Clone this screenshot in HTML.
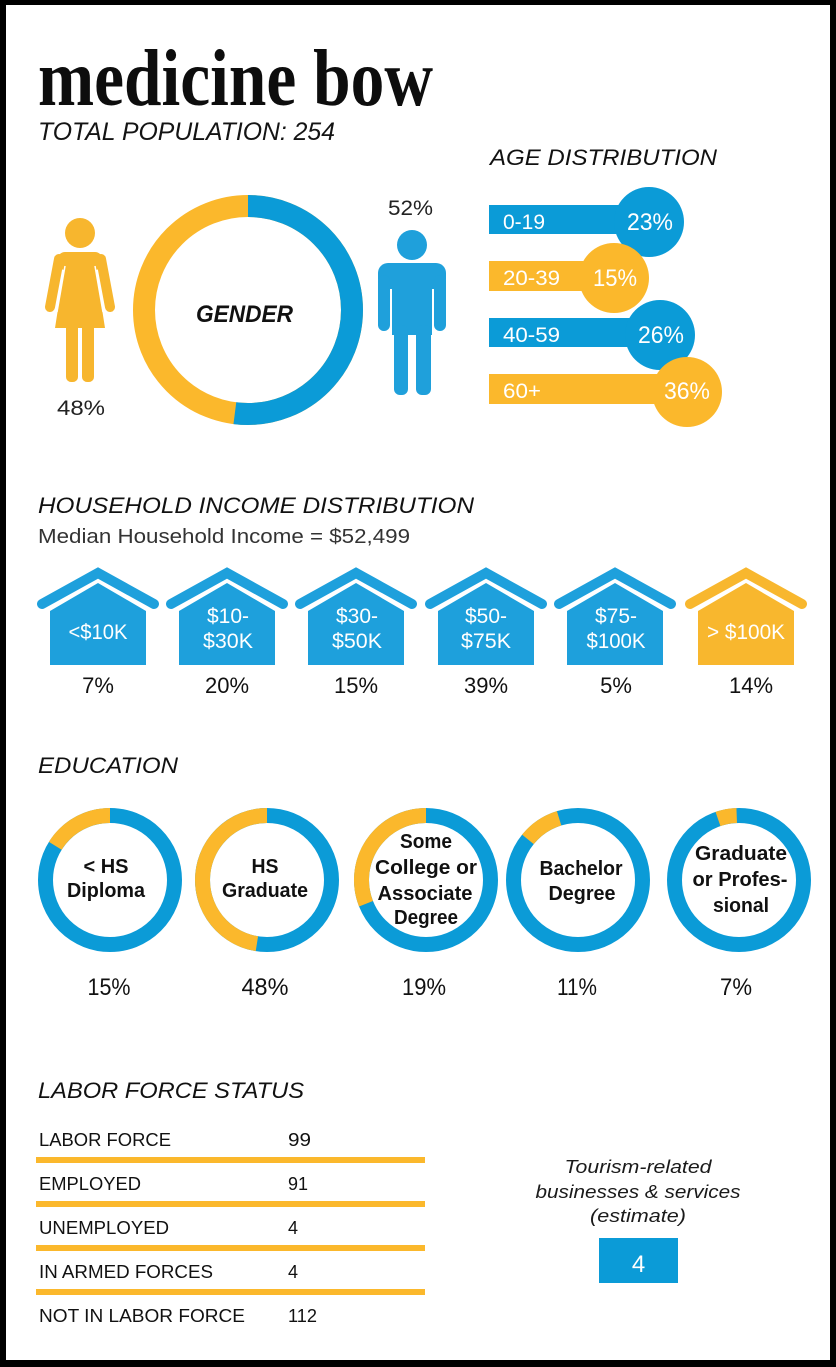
<!DOCTYPE html>
<html>
<head>
<meta charset="utf-8">
<style>
  html,body{margin:0;padding:0;background:#000;}
  svg{display:block;}
  text{font-family:"Liberation Sans", Arial, sans-serif;}
</style>
</head>
<body>
<svg width="836" height="1367" viewBox="0 0 836 1367" xmlns="http://www.w3.org/2000/svg">
  <rect x="0" y="0" width="836" height="1367" fill="#000"/>
  <rect x="6" y="5" width="824" height="1355" fill="#fff"/>

  <!-- Title -->
  <text x="38" y="105" style="font-family:'Liberation Serif', serif;" font-weight="bold" font-size="80" textLength="395" lengthAdjust="spacingAndGlyphs" fill="#0d0d0d">medicine bow</text>
  <text x="38" y="140" font-style="italic" font-size="25" textLength="297" lengthAdjust="spacingAndGlyphs" fill="#141414">TOTAL POPULATION: 254</text>

  <!-- Gender donut -->
  <circle cx="248" cy="310" r="104" fill="none" stroke="#fbb82c" stroke-width="22"/>
  <circle cx="248" cy="310" r="104" fill="none" stroke="#0b9bd7" stroke-width="22"
          stroke-dasharray="339.8 1000" transform="rotate(-90 248 310)"/>
  <text x="196" y="322" font-weight="bold" font-style="italic" font-size="24" textLength="97" lengthAdjust="spacingAndGlyphs" fill="#111">GENDER</text>

  <!-- Woman -->
  <g fill="#f7b62e">
    <circle cx="80" cy="233" r="15"/>
    <rect x="58" y="252" width="44" height="18" rx="7"/>
    <polygon points="66,258 94,258 105,328 55,328"/>
    <rect x="66" y="320" width="12" height="62" rx="5"/>
    <rect x="82" y="320" width="12" height="62" rx="5"/>
  </g>
  <g stroke="#f7b62e" stroke-width="10" stroke-linecap="round">
    <line x1="59" y1="259" x2="50" y2="307"/>
    <line x1="101" y1="259" x2="110" y2="307"/>
  </g>
  <g stroke="#fff" stroke-width="1.5">
    <line x1="65" y1="266" x2="57" y2="312"/>
    <line x1="95" y1="266" x2="103" y2="312"/>
  </g>
  <text x="57" y="415" font-size="21" textLength="48" lengthAdjust="spacingAndGlyphs" fill="#222">48%</text>

  <!-- Man -->
  <g fill="#1fa0db">
    <circle cx="412" cy="245" r="15"/>
    <rect x="378" y="263" width="68" height="26" rx="10"/>
    <rect x="378" y="275" width="12" height="56" rx="6"/>
    <rect x="434" y="275" width="12" height="56" rx="6"/>
    <rect x="392" y="263" width="40" height="72"/>
    <rect x="394" y="325" width="14" height="70" rx="6"/>
    <rect x="416" y="325" width="15" height="70" rx="6"/>
  </g>
  <text x="388" y="215" font-size="21" textLength="45" lengthAdjust="spacingAndGlyphs" fill="#222">52%</text>

  <!-- Age distribution -->
  <text x="490" y="165" font-style="italic" font-size="22" textLength="227" lengthAdjust="spacingAndGlyphs" fill="#111">AGE DISTRIBUTION</text>
  <rect x="489" y="205" width="160" height="29" fill="#0b9bd7"/>
  <circle cx="649" cy="222" r="35" fill="#0b9bd7"/>
  <rect x="489" y="261" width="125" height="30" fill="#fbb82c"/>
  <circle cx="614" cy="278" r="35" fill="#fbb82c"/>
  <rect x="489" y="318" width="171" height="29" fill="#0b9bd7"/>
  <circle cx="660" cy="335" r="35" fill="#0b9bd7"/>
  <rect x="489" y="374" width="198" height="30" fill="#fbb82c"/>
  <circle cx="687" cy="392" r="35" fill="#fbb82c"/>
  <g fill="#fff" font-size="21">
    <text x="503" y="229" textLength="42" lengthAdjust="spacingAndGlyphs">0-19</text>
    <text x="503" y="285" textLength="57" lengthAdjust="spacingAndGlyphs">20-39</text>
    <text x="503" y="342" textLength="57" lengthAdjust="spacingAndGlyphs">40-59</text>
    <text x="503" y="398" textLength="38" lengthAdjust="spacingAndGlyphs">60+</text>
  </g>
  <g fill="#fff" font-size="24">
    <text x="627" y="230" textLength="46" lengthAdjust="spacingAndGlyphs">23%</text>
    <text x="593" y="286" textLength="44" lengthAdjust="spacingAndGlyphs">15%</text>
    <text x="638" y="343" textLength="46" lengthAdjust="spacingAndGlyphs">26%</text>
    <text x="664" y="399" textLength="46" lengthAdjust="spacingAndGlyphs">36%</text>
  </g>

  <!-- Household income -->
  <text x="38" y="513" font-style="italic" font-size="22" textLength="436" lengthAdjust="spacingAndGlyphs" fill="#111">HOUSEHOLD INCOME DISTRIBUTION</text>
  <text x="38" y="543" font-size="20" textLength="372" lengthAdjust="spacingAndGlyphs" fill="#333">Median Household Income = $52,499</text>

  <g id="houses">
    <g>
      <polyline points="42,604 98,573 154,604" fill="none" stroke="#1ea0dc" stroke-width="10" stroke-linecap="round" stroke-linejoin="miter"/>
      <polygon points="50,665 50,611 98,583 146,611 146,665" fill="#1ea0dc"/>
    </g>
    <g>
      <polyline points="171,604 227,573 283,604" fill="none" stroke="#1ea0dc" stroke-width="10" stroke-linecap="round" stroke-linejoin="miter"/>
      <polygon points="179,665 179,611 227,583 275,611 275,665" fill="#1ea0dc"/>
    </g>
    <g>
      <polyline points="300,604 356,573 412,604" fill="none" stroke="#1ea0dc" stroke-width="10" stroke-linecap="round" stroke-linejoin="miter"/>
      <polygon points="308,665 308,611 356,583 404,611 404,665" fill="#1ea0dc"/>
    </g>
    <g>
      <polyline points="430,604 486,573 542,604" fill="none" stroke="#1ea0dc" stroke-width="10" stroke-linecap="round" stroke-linejoin="miter"/>
      <polygon points="438,665 438,611 486,583 534,611 534,665" fill="#1ea0dc"/>
    </g>
    <g>
      <polyline points="559,604 615,573 671,604" fill="none" stroke="#1ea0dc" stroke-width="10" stroke-linecap="round" stroke-linejoin="miter"/>
      <polygon points="567,665 567,611 615,583 663,611 663,665" fill="#1ea0dc"/>
    </g>
    <g>
      <polyline points="690,604 746,573 802,604" fill="none" stroke="#f8b72e" stroke-width="10" stroke-linecap="round" stroke-linejoin="miter"/>
      <polygon points="698,665 698,611 746,583 794,611 794,665" fill="#f8b72e"/>
    </g>
  </g>
  <g fill="#fff" font-size="21" text-anchor="middle">
    <text x="98" y="639" textLength="59" lengthAdjust="spacingAndGlyphs">&lt;$10K</text>
    <text x="228" y="623">$10-</text>
    <text x="228" y="648" textLength="50" lengthAdjust="spacingAndGlyphs">$30K</text>
    <text x="357" y="623">$30-</text>
    <text x="357" y="648" textLength="50" lengthAdjust="spacingAndGlyphs">$50K</text>
    <text x="486" y="623">$50-</text>
    <text x="486" y="648" textLength="50" lengthAdjust="spacingAndGlyphs">$75K</text>
    <text x="616" y="623">$75-</text>
    <text x="616" y="648" textLength="59" lengthAdjust="spacingAndGlyphs">$100K</text>
    <text x="746" y="639" textLength="78" lengthAdjust="spacingAndGlyphs">&gt; $100K</text>
  </g>
  <g fill="#111" font-size="22" text-anchor="middle">
    <text x="98" y="693">7%</text>
    <text x="227" y="693">20%</text>
    <text x="356" y="693">15%</text>
    <text x="486" y="693">39%</text>
    <text x="616" y="693">5%</text>
    <text x="751" y="693">14%</text>
  </g>

  <!-- Education -->
  <text x="38" y="773" font-style="italic" font-size="22" textLength="140" lengthAdjust="spacingAndGlyphs" fill="#111">EDUCATION</text>
  <g fill="none" stroke-width="15">
    <circle cx="110" cy="880" r="64.5" stroke="#0b9bd7"/>
    <path d="M110,815.5 A64.5,64.5 0 0 0 55.3,845.8" stroke="#fbb82c"/>
    <circle cx="267" cy="880" r="64.5" stroke="#0b9bd7"/>
    <path d="M267,815.5 A64.5,64.5 0 0 0 256.9,943.7" stroke="#fbb82c"/>
    <circle cx="426" cy="880" r="64.5" stroke="#0b9bd7"/>
    <path d="M426,815.5 A64.5,64.5 0 0 0 366.0,903.7" stroke="#fbb82c"/>
    <circle cx="578" cy="880" r="64.5" stroke="#0b9bd7"/>
    <path d="M559.1,818.3 A64.5,64.5 0 0 0 527.9,839.4" stroke="#fbb82c"/>
    <circle cx="739" cy="880" r="64.5" stroke="#0b9bd7"/>
    <path d="M736.7,815.5 A64.5,64.5 0 0 0 718.0,819.0" stroke="#fbb82c"/>
  </g>
  <g fill="#111" font-weight="bold" font-size="20" text-anchor="middle">
    <text x="106" y="873" textLength="45" lengthAdjust="spacingAndGlyphs">&lt; HS</text>
    <text x="106" y="897" textLength="78" lengthAdjust="spacingAndGlyphs">Diploma</text>
    <text x="265" y="873" textLength="27" lengthAdjust="spacingAndGlyphs">HS</text>
    <text x="265" y="897" textLength="86" lengthAdjust="spacingAndGlyphs">Graduate</text>
    <text x="426" y="848" textLength="52" lengthAdjust="spacingAndGlyphs">Some</text>
    <text x="426" y="874" textLength="102" lengthAdjust="spacingAndGlyphs">College or</text>
    <text x="425" y="900" textLength="95" lengthAdjust="spacingAndGlyphs">Associate</text>
    <text x="426" y="924" textLength="64" lengthAdjust="spacingAndGlyphs">Degree</text>
    <text x="581" y="875" textLength="83" lengthAdjust="spacingAndGlyphs">Bachelor</text>
    <text x="582" y="900" textLength="67" lengthAdjust="spacingAndGlyphs">Degree</text>
    <text x="741" y="860" textLength="92" lengthAdjust="spacingAndGlyphs">Graduate</text>
    <text x="740" y="886" textLength="95" lengthAdjust="spacingAndGlyphs">or Profes-</text>
    <text x="741" y="912" textLength="56" lengthAdjust="spacingAndGlyphs">sional</text>
  </g>
  <g fill="#111" font-size="24" text-anchor="middle">
    <text x="109" y="995" textLength="43" lengthAdjust="spacingAndGlyphs">15%</text>
    <text x="265" y="995" textLength="47" lengthAdjust="spacingAndGlyphs">48%</text>
    <text x="424" y="995" textLength="44" lengthAdjust="spacingAndGlyphs">19%</text>
    <text x="577" y="995" textLength="40" lengthAdjust="spacingAndGlyphs">11%</text>
    <text x="736" y="995" textLength="32" lengthAdjust="spacingAndGlyphs">7%</text>
  </g>

  <!-- Labor force -->
  <text x="38" y="1098" font-style="italic" font-size="22" textLength="266" lengthAdjust="spacingAndGlyphs" fill="#111">LABOR FORCE STATUS</text>
  <g fill="#fbb82c">
    <rect x="36" y="1157" width="389" height="6"/>
    <rect x="36" y="1201" width="389" height="6"/>
    <rect x="36" y="1245" width="389" height="6"/>
    <rect x="36" y="1289" width="389" height="6"/>
  </g>
  <g fill="#111" font-size="18">
    <text x="39" y="1146" textLength="132" lengthAdjust="spacingAndGlyphs">LABOR FORCE</text>
    <text x="39" y="1190" textLength="102" lengthAdjust="spacingAndGlyphs">EMPLOYED</text>
    <text x="39" y="1234" textLength="130" lengthAdjust="spacingAndGlyphs">UNEMPLOYED</text>
    <text x="39" y="1278" textLength="174" lengthAdjust="spacingAndGlyphs">IN ARMED FORCES</text>
    <text x="39" y="1322" textLength="206" lengthAdjust="spacingAndGlyphs">NOT IN LABOR FORCE</text>
    <text x="288" y="1146" textLength="23" lengthAdjust="spacingAndGlyphs">99</text>
    <text x="288" y="1190" textLength="20" lengthAdjust="spacingAndGlyphs">91</text>
    <text x="288" y="1234">4</text>
    <text x="288" y="1278">4</text>
    <text x="288" y="1322" textLength="29" lengthAdjust="spacingAndGlyphs">112</text>
  </g>

  <!-- Tourism -->
  <g fill="#1a1a1a" font-style="italic" font-size="18" text-anchor="middle">
    <text x="638" y="1173" textLength="147" lengthAdjust="spacingAndGlyphs">Tourism-related</text>
    <text x="638" y="1198" textLength="205" lengthAdjust="spacingAndGlyphs">businesses &amp; services</text>
    <text x="638" y="1222" textLength="96" lengthAdjust="spacingAndGlyphs">(estimate)</text>
  </g>
  <rect x="599" y="1238" width="79" height="45" fill="#0b9bd7"/>
  <text x="638.5" y="1272" fill="#fff" font-size="24" text-anchor="middle">4</text>
</svg>
</body>
</html>
